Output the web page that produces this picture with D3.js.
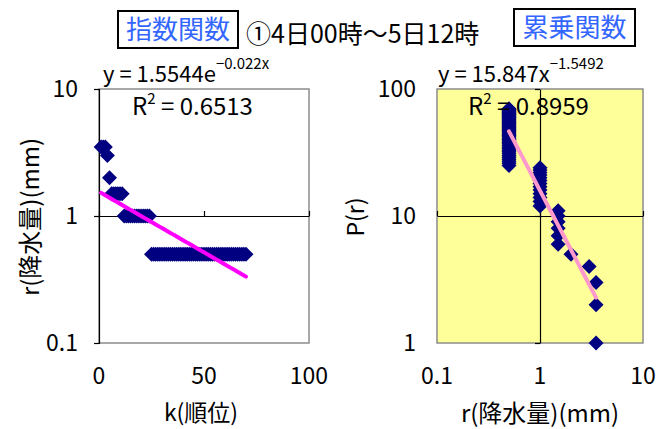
<!DOCTYPE html>
<html>
<head>
<meta charset="utf-8">
<script src="https://cdn.jsdelivr.net/npm/d3@7/dist/d3.min.js"></script>
<style>
  html, body { margin: 0; padding: 0; background: #fff; }
  svg { display: block; }
  text { font-family: "Noto Sans CJK JP", "Noto Sans", sans-serif; fill: #000; }
</style>
</head>
<body>
<svg id="chart" width="662" height="429"></svg>
<script>
// Rank (k) of each rainfall amount, largest first
const rank = [
  1, 2, 3, 4, 5, 6, 7, 8, 9, 10,
  11, 12, 13, 14, 15, 16, 17, 18, 19, 20,
  21, 22, 23, 24, 25, 26, 27, 28, 29, 30,
  31, 32, 33, 34, 35, 36, 37, 38, 39, 40,
  41, 42, 43, 44, 45, 46, 47, 48, 49, 50,
  51, 52, 53, 54, 55, 56, 57, 58, 59, 60,
  61, 62, 63, 64, 65, 66, 67, 68, 69, 70
];
// Rainfall r (mm) for each rank
const rain = [
  3.5, 3.5, 3.5, 3.0, 2.0, 1.5, 1.5, 1.5, 1.5, 1.5,
  1.5, 1.0, 1.0, 1.0, 1.0, 1.0, 1.0, 1.0, 1.0, 1.0,
  1.0, 1.0, 1.0, 1.0, 0.5, 0.5, 0.5, 0.5, 0.5, 0.5,
  0.5, 0.5, 0.5, 0.5, 0.5, 0.5, 0.5, 0.5, 0.5, 0.5,
  0.5, 0.5, 0.5, 0.5, 0.5, 0.5, 0.5, 0.5, 0.5, 0.5,
  0.5, 0.5, 0.5, 0.5, 0.5, 0.5, 0.5, 0.5, 0.5, 0.5,
  0.5, 0.5, 0.5, 0.5, 0.5, 0.5, 0.5, 0.5, 0.5, 0.5
];

// Fitted curves
const expFit = { a: 1.5544, b: -0.022, r2: "0.6513" };   // y = a·e^(b·x)
const powFit = { a: 15.847, b: -1.5492, r2: "0.8959" };  // y = a·x^b

// Axis ticks
const leftXTicks = [0, 50, 100];
const leftYTicks = [0.1, 1, 10];
const rightXTicks = [0.1, 1, 10];
const rightYTicks = [1, 10, 100];

const svg = d3.select("#chart");
const FONT = 23;

// Rotated-square marker
const diamond = {
  draw(ctx, size) {
    const a = Math.sqrt(size / 2);
    ctx.moveTo(0, -a); ctx.lineTo(a, 0); ctx.lineTo(0, a); ctx.lineTo(-a, 0); ctx.closePath();
  }
};
const marker = d3.symbol().type(diamond).size(2 * 7.5 * 7.5)();

// ---------- Header ----------
function labelBox(x0, x1, y0, y1, label, size) {
  svg.append("rect").attr("x", x0).attr("y", y0).attr("width", x1 - x0).attr("height", y1 - y0)
    .attr("fill", "#fff").attr("stroke", "#000").attr("stroke-width", 2);
  svg.append("text").attr("x", (x0 + x1) / 2).attr("y", (y0 + y1) / 2)
    .attr("dy", "0.36em").attr("text-anchor", "middle")
    .style("font-size", size + "px").style("fill", "#3366ff").text(label);
}
labelBox(118, 238, 11, 48, "指数関数", 26);
labelBox(514, 635, 9, 46, "累乗関数", 26);
svg.append("text").attr("x", 246).attr("y", 43).style("font-size", "25px")
  .text("①4日00時～5日12時");

// ---------- Left: exponential (k vs r) ----------
const L = { x0: 99, x1: 309, y0: 89, y1: 343 };
const lx = d3.scaleLinear().domain([0, 100]).range([L.x0, L.x1]);
const ly = d3.scaleLog().domain([0.1, 10]).range([L.y1, L.y0]);

const gL = svg.append("g");
gL.append("rect").attr("x", L.x0).attr("y", L.y0).attr("width", L.x1 - L.x0).attr("height", L.y1 - L.y0)
  .attr("fill", "#fff").attr("stroke", "#8c8c8c").attr("stroke-width", 1.5);

// value axis on the left edge
gL.append("g").attr("transform", `translate(${L.x0},0)`)
  .call(d3.axisLeft(ly).tickValues(leftYTicks).tickSize(5).tickFormat(d3.format("")))
  .call(g => g.selectAll("text").remove())
  .call(g => g.selectAll("path,line").attr("stroke", "#000").attr("stroke-width", 1.2));
// category axis crossing at r = 1, ticks pointing up
gL.append("g").attr("transform", `translate(0,${ly(1)})`)
  .call(d3.axisTop(lx).tickValues(leftXTicks).tickSize(5).tickSizeOuter(0))
  .call(g => g.selectAll("text").remove())
  .call(g => g.selectAll("path,line").attr("stroke", "#000").attr("stroke-width", 1.2));

gL.selectAll("path.pt").data(rank).join("path").attr("class", "pt")
  .attr("d", marker).attr("fill", "#000080")
  .attr("transform", (d, i) => `translate(${lx(d)},${ly(rain[i])})`);

const expPts = d3.range(rank[0], rank[rank.length - 1] + 0.5, 1)
  .map(k => [k, expFit.a * Math.exp(expFit.b * k)]);
gL.append("path").datum(expPts)
  .attr("d", d3.line().x(d => lx(d[0])).y(d => ly(d[1])))
  .attr("fill", "none").attr("stroke", "#ff00ff").attr("stroke-width", 4).attr("stroke-linecap", "round");

// tick labels
leftYTicks.forEach(v => svg.append("text").attr("x", 78).attr("y", ly(v)).attr("dy", "0.36em")
  .attr("text-anchor", "end").style("font-size", FONT + "px").text(d3.format("")(v)));
leftXTicks.forEach(v => svg.append("text").attr("x", lx(v)).attr("y", 376).attr("dy", "0.36em")
  .attr("text-anchor", "middle").style("font-size", FONT + "px").text(v));
svg.append("text").attr("x", 201).attr("y", 413).attr("dy", "0.36em").attr("text-anchor", "middle")
  .style("font-size", FONT + "px").text("k(順位)");
svg.append("text").attr("transform", "translate(30,217) rotate(-90)").attr("dy", "0.36em")
  .attr("text-anchor", "middle").style("font-size", "24px").text("r(降水量)(mm)");

// equation and R²
const eqL = svg.append("text").attr("x", 103).attr("y", 82).style("font-size", "22px");
eqL.append("tspan").text(`y = ${expFit.a}e`);
eqL.append("tspan").attr("dy", -13).style("font-size", "15px").text(`−${Math.abs(expFit.b)}x`);
const r2L = svg.append("text").attr("x", 132).attr("y", 115).style("font-size", "24px");
r2L.append("tspan").text("R");
r2L.append("tspan").attr("dy", -11).style("font-size", "15px").text("2");
r2L.append("tspan").attr("dy", 11).text(` = ${expFit.r2}`);

// ---------- Right: power law (r vs P(r)) ----------
const R = { x0: 437, x1: 643, y0: 89, y1: 343 };
const rx = d3.scaleLog().domain([0.1, 10]).range([R.x0, R.x1]);
const ry = d3.scaleLog().domain([1, 100]).range([R.y1, R.y0]);

const gR = svg.append("g");
gR.append("rect").attr("x", R.x0).attr("y", R.y0).attr("width", R.x1 - R.x0).attr("height", R.y1 - R.y0)
  .attr("fill", "#ffff99").attr("stroke", "#8c8c8c").attr("stroke-width", 1.5);
// value axis crossing at r = 1
gR.append("g").attr("transform", `translate(${rx(1)},0)`)
  .call(d3.axisLeft(ry).tickValues(rightYTicks).tickSize(5).tickSizeOuter(0))
  .call(g => g.selectAll("text").remove())
  .call(g => g.selectAll("path,line").attr("stroke", "#000").attr("stroke-width", 1.2));
// category axis crossing at P = 10
gR.append("g").attr("transform", `translate(0,${ry(10)})`)
  .call(d3.axisTop(rx).tickValues(rightXTicks).tickSize(5).tickSizeOuter(0))
  .call(g => g.selectAll("text").remove())
  .call(g => g.selectAll("path,line").attr("stroke", "#000").attr("stroke-width", 1.2));

gR.selectAll("path.pt").data(rain).join("path").attr("class", "pt")
  .attr("d", marker).attr("fill", "#000080")
  .attr("transform", (d, i) => `translate(${rx(d)},${ry(rank[i])})`);

const rMin = d3.min(rain), rMax = d3.max(rain);
const powPts = d3.range(0, 21).map(i => {
  const x = rMin * Math.pow(rMax / rMin, i / 20);
  return [x, powFit.a * Math.pow(x, powFit.b)];
});
gR.append("path").datum(powPts)
  .attr("d", d3.line().x(d => rx(d[0])).y(d => ry(d[1])))
  .attr("fill", "none").attr("stroke", "#ff99cc").attr("stroke-width", 4).attr("stroke-linecap", "round");

rightYTicks.forEach(v => svg.append("text").attr("x", 416).attr("y", ry(v)).attr("dy", "0.36em")
  .attr("text-anchor", "end").style("font-size", FONT + "px").text(v));
rightXTicks.forEach(v => svg.append("text").attr("x", rx(v)).attr("y", 376).attr("dy", "0.36em")
  .attr("text-anchor", "middle").style("font-size", FONT + "px").text(d3.format("")(v)));
svg.append("text").attr("x", 540).attr("y", 413).attr("dy", "0.36em").attr("text-anchor", "middle")
  .style("font-size", "24px").text("r(降水量)(mm)");
svg.append("text").attr("transform", "translate(356,217) rotate(-90)").attr("dy", "0.36em")
  .attr("text-anchor", "middle").style("font-size", FONT + "px").text("P(r)");

const eqR = svg.append("text").attr("x", 438).attr("y", 82).style("font-size", "22px");
eqR.append("tspan").text(`y = ${powFit.a}x`);
eqR.append("tspan").attr("dy", -13).style("font-size", "15px").text(`−${Math.abs(powFit.b)}`);
const r2R = svg.append("text").attr("x", 468).attr("y", 115).style("font-size", "24px");
r2R.append("tspan").text("R");
r2R.append("tspan").attr("dy", -11).style("font-size", "15px").text("2");
r2R.append("tspan").attr("dy", 11).text(` = ${powFit.r2}`);
</script>
</body>
</html>
